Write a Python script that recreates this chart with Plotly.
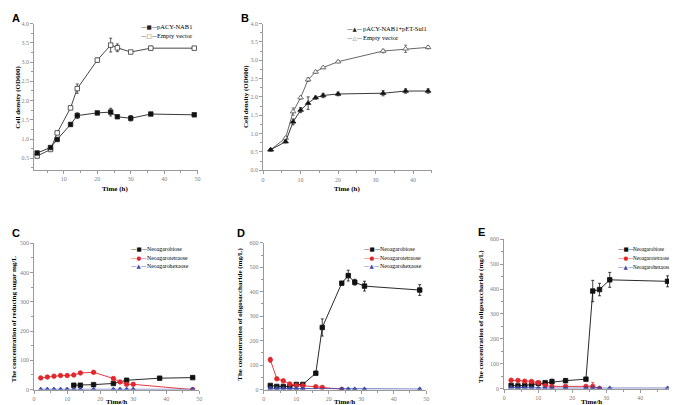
import plotly.graph_objects as go

# ---------------- data ----------------
# Panel A
a_time = [2, 6, 8, 12, 14, 20, 24, 26, 30, 36, 49]
a_nab1 = [0.64, 0.78, 0.99, 1.38, 1.61, 1.68, 1.70, 1.58, 1.54, 1.65, 1.63]
a_nab1_err = [0.02, 0.02, 0.03, 0.05, 0.07, 0.02, 0.10, 0.03, 0.07, 0.02, 0.02]
a_empty = [0.56, 0.73, 1.16, 1.81, 2.31, 3.05, 3.44, 3.37, 3.26, 3.36, 3.36]
a_empty_err = [0.03, 0.02, 0.03, 0.04, 0.12, 0.05, 0.18, 0.10, 0.02, 0.05, 0.02]
a_names = ["pACY-NAB1", "Empty vector"]

# Panel B
b_time = [2, 6, 8, 10, 12, 14, 16, 20, 32, 38, 44]
b_sul1 = [0.56, 0.78, 1.32, 1.64, 1.83, 1.98, 2.04, 2.08, 2.10, 2.16, 2.16]
b_sul1_err = [0.03, 0.03, 0.08, 0.07, 0.17, 0.04, 0.06, 0.05, 0.07, 0.06, 0.06]
b_empty = [0.56, 0.88, 1.60, 1.98, 2.47, 2.68, 2.80, 2.96, 3.25, 3.31, 3.35]
b_empty_err = [0.03, 0.03, 0.10, 0.04, 0.05, 0.04, 0.03, 0.03, 0.05, 0.10, 0.04]
b_names = ["pACY-NAB1+pET-Sul1", "Empty vector"]

sugar_names = ["Neoagarobiose", "Neoagarotetraose", "Neoagarohexaose"]

# Panel C
c_bio_time = [12, 14, 18, 24, 28, 38, 48]
c_bio = [15, 15, 17, 21, 32, 39, 41]
c_tetra_time = [2, 4, 6, 8, 10, 12, 14, 18, 24, 26, 28, 30, 48]
c_tetra = [40, 43, 46, 48, 48, 50, 57, 59, 38, 26, 18, 18, 0]
c_hexa_time = [2, 4, 6, 8, 10, 12, 14, 18, 24, 26, 28, 30, 48]
c_hexa = [1, 1, 1, 1, 1, 1, 1, 1, 1, 1, 1, 1, 1]

# Panel D
d_bio_time = [2, 4, 6, 8, 10, 12, 16, 18, 24, 26, 28, 31, 48]
d_bio = [17, 13, 13, 13, 21, 21, 67, 254, 435, 466, 439, 423, 407]
d_bio_err = [3, 3, 3, 3, 3, 3, 5, 35, 5, 22, 12, 20, 22]
d_tetra_time = [2, 4, 6, 8, 10, 12, 16, 18, 24]
d_tetra = [122, 44, 36, 23, 17, 16, 12, 9, 1]
d_tetra_err = [10, 3, 3, 3, 3, 3, 2, 2, 1]
d_hexa_time = [2, 4, 6, 8, 10, 12, 24, 26, 28, 31, 48]
d_hexa = [5, 5, 4, 4, 3, 3, 2, 2, 2, 2, 2]
d_hexa_err = [6, 6, 6, 6, 4, 4, 1, 1, 1, 1, 1]

# Panel E
e_bio_time = [2, 4, 6, 8, 10, 12, 14, 18, 24, 26, 28, 31, 48]
e_bio = [13, 11, 13, 16, 21, 24, 28, 32, 38, 392, 398, 437, 431]
e_bio_err = [5, 5, 5, 5, 5, 5, 10, 8, 5, 43, 25, 30, 22]
e_tetra_time = [2, 4, 6, 8, 10, 12, 14, 18, 24, 26, 28]
e_tetra = [34, 33, 30, 29, 24, 12, 9, 9, 9, 9, 1]
e_tetra_err = [3, 3, 3, 3, 3, 3, 3, 3, 3, 15, 1]
e_hexa_time = [2, 4, 6, 8, 10, 12, 14, 18, 24, 26, 28, 31, 48]
e_hexa = [5, 4, 4, 3, 2, 2, 2, 2, 2, 2, 2, 2, 2]

# ---------------- styling ----------------
W, H = 677, 405
SERIF = "Liberation Serif"
RED = "#e3262b"
BLUE = "#3b4aa8"
BLK = "#111111"
AXC = "#9a9a9a"


def px(x):
    return x / W


def py(y):
    return 1 - y / H


def err(arr, color="#111"):
    return dict(type="data", array=arr, color=color, thickness=0.8, width=1.5)


fig = go.Figure()


def add(xs, ys, axn, symbol, color, fill, errs=None, size=4.5, lw=0.9):
    fig.add_trace(go.Scatter(
        x=xs, y=ys, xaxis="x" + axn, yaxis="y" + axn, mode="lines+markers",
        line=dict(color=color, width=lw),
        marker=dict(symbol=symbol, size=size, color=fill,
                    line=dict(color=color, width=0.8)),
        error_y=err(errs, color) if errs is not None else None,
        showlegend=False, hoverinfo="skip"))


# A
add(a_time, a_empty, "", "square", "#333", "white", a_empty_err)
add(a_time, a_nab1, "", "square", "#222", "#111", a_nab1_err)
# B
add(b_time, b_empty, "2", "triangle-up", "#555", "white", b_empty_err, size=5)
add(b_time, b_sul1, "2", "triangle-up", "#222", "#111", b_sul1_err, size=5)
# C
add(c_bio_time, c_bio, "3", "square", BLK, BLK)
add(c_tetra_time, c_tetra, "3", "circle", RED, RED)
add(c_hexa_time, c_hexa, "3", "triangle-up", BLUE, BLUE)
# D
add(d_bio_time, d_bio, "4", "square", BLK, BLK, d_bio_err)
add(d_tetra_time, d_tetra, "4", "circle", RED, RED, d_tetra_err)
add(d_hexa_time, d_hexa, "4", "triangle-up", BLUE, BLUE, d_hexa_err)
# E
add(e_bio_time, e_bio, "5", "square", BLK, BLK, e_bio_err)
add(e_tetra_time, e_tetra, "5", "circle", RED, RED, e_tetra_err)
add(e_hexa_time, e_hexa, "5", "triangle-up", BLUE, BLUE)


def axis(domain, rng, dtick, mdtick, anchor, tick0=0, fmt=None):
    d = dict(domain=domain, range=rng, anchor=anchor, showline=True,
             linecolor=AXC, linewidth=1, ticks="outside", ticklen=3,
             tickcolor=AXC, tickwidth=1, showgrid=False, zeroline=False,
             tick0=tick0, dtick=dtick,
             tickfont=dict(family=SERIF, size=6, color="#808080"),
             minor=dict(ticks="outside", ticklen=2, tickcolor=AXC, dtick=mdtick,
                        tick0=tick0, showgrid=False))
    if fmt:
        d["tickformat"] = fmt
    return d


fig.update_layout(
    width=W, height=H, autosize=False,
    margin=dict(l=0, r=0, t=0, b=0),
    paper_bgcolor="white", plot_bgcolor="white",
    xaxis=axis([px(24.3), px(189)], [1.1, 50], 10, 5, "y"),
    yaxis=axis([py(161.3), py(12.7)], [0.2, 4.0], 0.5, 0.25, "x", fmt=".1f"),
    xaxis2=axis([px(255), px(425)], [0, 45], 10, 5, "y2"),
    yaxis2=axis([py(161.7), py(12.7)], [0, 4.0], 0.5, 0.25, "x2", fmt=".1f"),
    xaxis3=axis([px(24.3), px(190.7)], [0, 50], 10, 5, "y3"),
    yaxis3=axis([py(384.3), py(235.7)], [0, 500], 100, 50, "x3"),
    xaxis4=axis([px(255.7), px(419.3)], [0, 50], 10, 5, "y4"),
    yaxis4=axis([py(384.3), py(235.3)], [0, 600], 100, 50, "x4"),
    xaxis5=axis([px(498), px(669.3)], [0, 50], 10, 5, "y5"),
    yaxis5=axis([py(383.3), py(231.7)], [0, 600], 100, 50, "x5"),
)

ann = []


def text(x, y, s, size=7, bold=True, angle=0, family=SERIF, color="#000",
         xanchor="center"):
    ann.append(dict(x=px(x), y=py(y), xref="paper", yref="paper", text=(
        "<b>%s</b>" % s if bold else s), showarrow=False, textangle=angle,
        xanchor=xanchor, yanchor="middle", borderpad=0,
        font=dict(family=family, size=size, color=color)))


# panel letters
for lab, x, y in [("A", 6, 7), ("B", 237, 7), ("C", 6, 225), ("D", 233, 225),
                  ("E", 475, 224)]:
    text(x, y, lab, size=11, family="Liberation Sans")

# axis titles
text(8, 87, "Cell density (OD600)", angle=-90)
text(106, 181, "Time (h)")
text(237, 87, "Cell density (OD600)", angle=-90)
text(340, 181, "Time (h)")
text(4, 312, "The concentration of reducing sugar mg/L", angle=-90)
text(107, 397, "Time/h")
text(232, 308, "The concentration of oligosaccharide (mg/L)", angle=-90)
text(337, 397, "Time/h")
text(475, 310, "The concentration of oligosaccharide (mg/L)", angle=-90)
text(586, 397, "Time/h")


def legend(x, ys, names, glyphs, colors, fs=5.8, gap=16):
    for y, n, g, c in zip(ys, names, glyphs, colors):
        text(x, y, "\u2014" + g + "\u2014", size=5.5, bold=False,
             family="DejaVu Sans", color=c, xanchor="left")
        text(x + gap, y, n, size=fs, bold=False, xanchor="left")


legend(131, [16, 25], a_names, ["\u25a0", "\u25a1"], ["#222", "#444"], fs=6.5)
legend(339, [18, 27], b_names, ["\u25b2", "\u25b3"], ["#222", "#555"], fs=6.5)
sym3 = ["\u25a0", "\u25cf", "\u25b2"]
col3 = [BLK, RED, BLUE]
legend(121, [242, 251, 259], sugar_names, sym3, col3)
legend(356, [242, 251, 259], sugar_names, sym3, col3)
legend(612, [242, 251, 260], sugar_names, sym3, col3, fs=5.2, gap=15)

fig.update_layout(annotations=ann)
fig.write_html("out.html")
